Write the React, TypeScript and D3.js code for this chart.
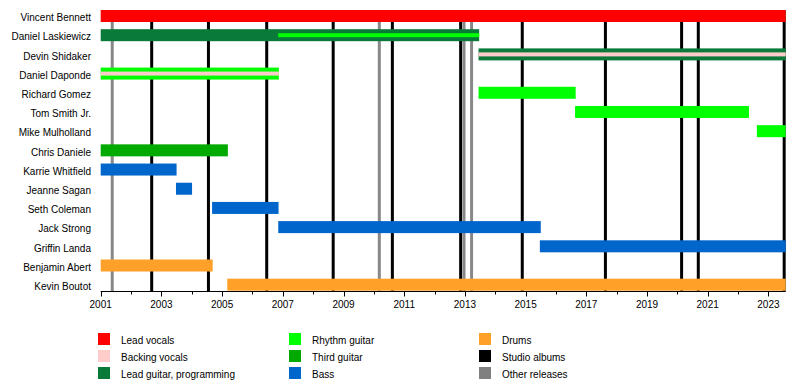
import React from 'react';
import * as d3 from 'd3';

const members = [
  'Vincent Bennett',
  'Daniel Laskiewicz',
  'Devin Shidaker',
  'Daniel Daponde',
  'Richard Gomez',
  'Tom Smith Jr.',
  'Mike Mulholland',
  'Chris Daniele',
  'Karrie Whitfield',
  'Jeanne Sagan',
  'Seth Coleman',
  'Jack Strong',
  'Griffin Landa',
  'Benjamin Abert',
  'Kevin Boutot',
];

const roles = [
  'Lead vocals',
  'Backing vocals',
  'Lead guitar, programming',
  'Rhythm guitar',
  'Third guitar',
  'Bass',
  'Drums',
];
const roleColors = ['#FF0000', '#FFCCCC', '#0A7A3A', '#00FF00', '#00AA00', '#0066CC', '#FFA028'];

const START = 2001;
const END = 2023.57;

// [member, role, start, end]
const bars: [string, string, number, number][] = [
  ['Vincent Bennett', 'Lead vocals', 2001, END],
  ['Daniel Laskiewicz', 'Lead guitar, programming', 2001, 2013.47],
  ['Devin Shidaker', 'Lead guitar, programming', 2013.45, END],
  ['Daniel Daponde', 'Rhythm guitar', 2001, 2006.87],
  ['Richard Gomez', 'Rhythm guitar', 2013.45, 2016.65],
  ['Tom Smith Jr.', 'Rhythm guitar', 2016.63, 2022.36],
  ['Mike Mulholland', 'Rhythm guitar', 2022.62, END],
  ['Chris Daniele', 'Third guitar', 2001, 2005.19],
  ['Karrie Whitfield', 'Bass', 2001, 2003.5],
  ['Jeanne Sagan', 'Bass', 2003.48, 2004.01],
  ['Seth Coleman', 'Bass', 2004.67, 2006.86],
  ['Jack Strong', 'Bass', 2006.85, 2015.5],
  ['Griffin Landa', 'Bass', 2015.47, END],
  ['Benjamin Abert', 'Drums', 2001, 2004.69],
  ['Kevin Boutot', 'Drums', 2005.17, END],
];

// secondary (thin) role bars
const innerBars: [string, string, number, number][] = [
  ['Daniel Laskiewicz', 'Rhythm guitar', 2006.85, 2013.47],
  ['Devin Shidaker', 'Backing vocals', 2013.45, END],
  ['Daniel Daponde', 'Backing vocals', 2001, 2006.87],
];

const studioAlbums = [2002.68, 2004.55, 2006.47, 2008.66, 2010.61, 2012.86, 2014.89, 2017.63, 2020.14, 2020.69, 2023.52];
const otherReleases = [2001.38, 2010.18, 2012.97, 2013.22];

const yearLabels = d3.range(2001, 2024, 2);
const minorYears = d3.range(2002, 2024, 2);

const legendLabels = [...roles, 'Studio albums', 'Other releases'];
const legendColors = [...roleColors, '#000000', '#808080'];

const FONT = '"Liberation Sans", Arial, Helvetica, sans-serif';

export default function App() {
  const x = d3.scaleLinear().domain([START, END]).range([100.7, 785.7]);
  const y = d3.scalePoint<string>().domain(members).range([16, 284.7]);
  const color = d3.scaleOrdinal<string, string>().domain(roles).range(roleColors);
  const barH = 12;
  const innerH = 4;
  const axisY = 291.5;
  const lineTop = 10;

  const colX = [98, 289, 479];
  const rowY = [333, 350, 367];

  return (
    <svg
      width={800}
      height={380}
      style={{ position: 'absolute', left: 0, top: 0, background: '#fff' }}
      fontFamily={FONT}
    >
      <rect x={0} y={0} width={800} height={380} fill="#fff" />
      {/* album lines */}
      {studioAlbums.map((d, i) => (
        <line key={'s' + i} x1={x(d)} x2={x(d)} y1={lineTop} y2={axisY} stroke="#000" strokeWidth={3} />
      ))}
      {otherReleases.map((d, i) => (
        <line key={'o' + i} x1={x(d)} x2={x(d)} y1={lineTop} y2={axisY} stroke="#888" strokeWidth={3} />
      ))}
      {/* bars */}
      {bars.map(([m, r, s, e], i) => (
        <rect
          key={'b' + i}
          x={x(s)}
          y={(y(m) as number) - barH / 2}
          width={x(e) - x(s)}
          height={barH}
          fill={color(r)}
        />
      ))}
      {innerBars.map(([m, r, s, e], i) => (
        <rect
          key={'ib' + i}
          x={x(s)}
          y={(y(m) as number) - innerH / 2}
          width={x(e) - x(s)}
          height={innerH}
          fill={color(r)}
        />
      ))}
      {/* member labels */}
      {members.map((m) => (
        <text key={m} x={91} y={(y(m) as number) + 5.3} textAnchor="end" fontSize={10} fill="#000">
          {m}
        </text>
      ))}
      {/* axis */}
      <line x1={x(START)} x2={x(END)} y1={axisY} y2={axisY} stroke="#000" strokeWidth={1} />
      {yearLabels.map((yr) => (
        <g key={'t' + yr}>
          <line x1={Math.round(x(yr)) + 0.5} x2={Math.round(x(yr)) + 0.5} y1={axisY} y2={axisY + 5} stroke="#000" />
          <text x={x(yr)} y={307.5} textAnchor="middle" fontSize={10} fill="#000">
            {yr}
          </text>
        </g>
      ))}
      {minorYears.map((yr) => (
        <line
          key={'m' + yr}
          x1={Math.round(x(yr)) + 0.5}
          x2={Math.round(x(yr)) + 0.5}
          y1={axisY}
          y2={axisY + 3}
          stroke="#000"
        />
      ))}
      {/* legend */}
      {legendLabels.map((lab, i) => {
        const c = Math.floor(i / 3);
        const r = i % 3;
        return (
          <g key={'l' + i}>
            <rect x={colX[c]} y={rowY[r]} width={12} height={12} fill={legendColors[i]} />
            <text x={colX[c] + 23} y={rowY[r] + 11} fontSize={10} fill="#000">
              {lab}
            </text>
          </g>
        );
      })}
    </svg>
  );
}
